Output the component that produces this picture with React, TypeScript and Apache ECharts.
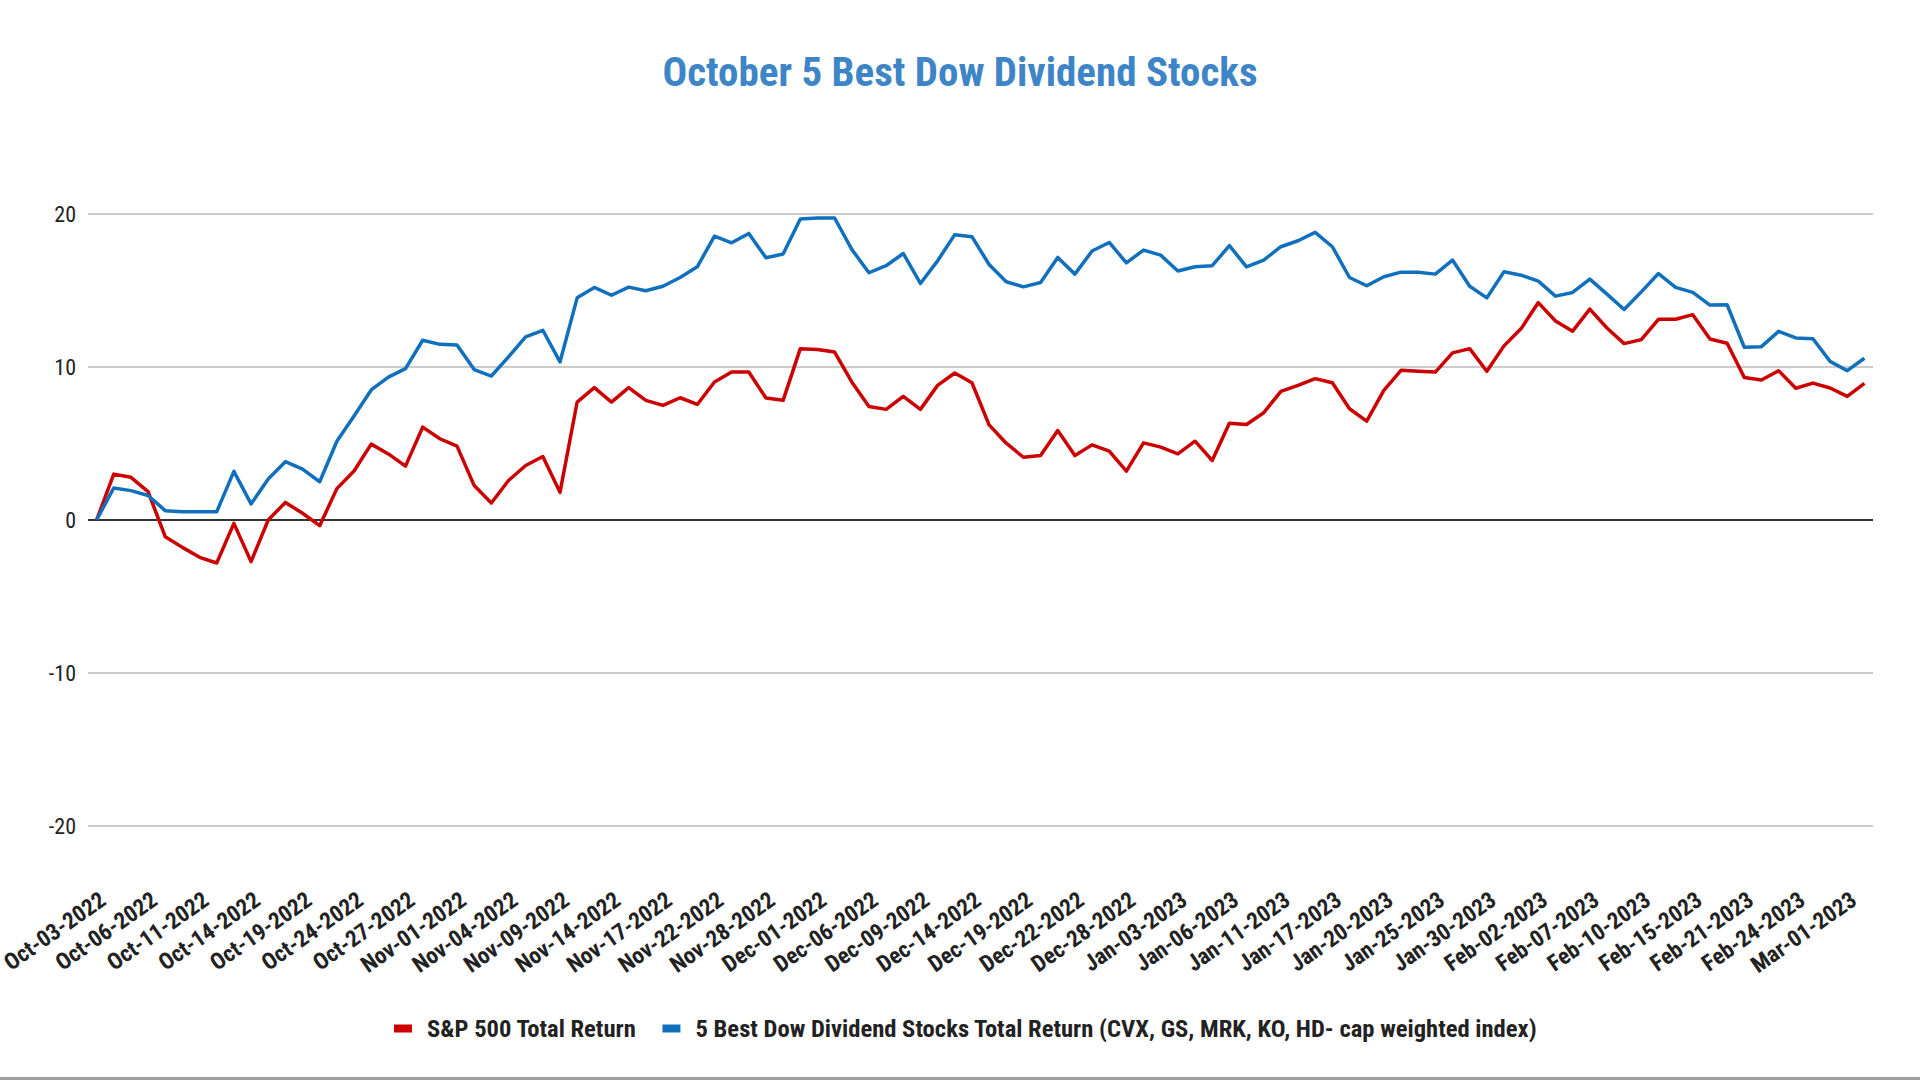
import * as echarts from 'echarts';
import { useEffect, useRef } from 'react';

const tradingDays = [
  'Oct-03-2022', 'Oct-04-2022', 'Oct-05-2022', 'Oct-06-2022', 'Oct-07-2022', 'Oct-10-2022', 'Oct-11-2022',
  'Oct-12-2022', 'Oct-13-2022', 'Oct-14-2022', 'Oct-17-2022', 'Oct-18-2022', 'Oct-19-2022', 'Oct-20-2022',
  'Oct-21-2022', 'Oct-24-2022', 'Oct-25-2022', 'Oct-26-2022', 'Oct-27-2022', 'Oct-28-2022', 'Oct-31-2022',
  'Nov-01-2022', 'Nov-02-2022', 'Nov-03-2022', 'Nov-04-2022', 'Nov-07-2022', 'Nov-08-2022', 'Nov-09-2022',
  'Nov-10-2022', 'Nov-11-2022', 'Nov-14-2022', 'Nov-15-2022', 'Nov-16-2022', 'Nov-17-2022', 'Nov-18-2022',
  'Nov-21-2022', 'Nov-22-2022', 'Nov-23-2022', 'Nov-25-2022', 'Nov-28-2022', 'Nov-29-2022', 'Nov-30-2022',
  'Dec-01-2022', 'Dec-02-2022', 'Dec-05-2022', 'Dec-06-2022', 'Dec-07-2022', 'Dec-08-2022', 'Dec-09-2022',
  'Dec-12-2022', 'Dec-13-2022', 'Dec-14-2022', 'Dec-15-2022', 'Dec-16-2022', 'Dec-19-2022', 'Dec-20-2022',
  'Dec-21-2022', 'Dec-22-2022', 'Dec-23-2022', 'Dec-27-2022', 'Dec-28-2022', 'Dec-29-2022', 'Dec-30-2022',
  'Jan-03-2023', 'Jan-04-2023', 'Jan-05-2023', 'Jan-06-2023', 'Jan-09-2023', 'Jan-10-2023', 'Jan-11-2023',
  'Jan-12-2023', 'Jan-13-2023', 'Jan-17-2023', 'Jan-18-2023', 'Jan-19-2023', 'Jan-20-2023', 'Jan-23-2023',
  'Jan-24-2023', 'Jan-25-2023', 'Jan-26-2023', 'Jan-27-2023', 'Jan-30-2023', 'Jan-31-2023', 'Feb-01-2023',
  'Feb-02-2023', 'Feb-03-2023', 'Feb-06-2023', 'Feb-07-2023', 'Feb-08-2023', 'Feb-09-2023', 'Feb-10-2023',
  'Feb-13-2023', 'Feb-14-2023', 'Feb-15-2023', 'Feb-16-2023', 'Feb-17-2023', 'Feb-21-2023', 'Feb-22-2023',
  'Feb-23-2023', 'Feb-24-2023', 'Feb-27-2023', 'Feb-28-2023', 'Mar-01-2023', 'Mar-02-2023'
];

// total return in %
const spReturn = [
  0, 3.0, 2.79, 1.85, -1.09, -1.79, -2.44, -2.81, -0.22, -2.72, 0.0, 1.15, 0.44, -0.37, 2.05, 3.2, 4.96,
  4.32, 3.52, 6.07, 5.31, 4.83, 2.25, 1.11, 2.58, 3.56, 4.15, 1.81, 7.71, 8.65, 7.71, 8.65, 7.82, 7.49, 7.99, 7.55,
  9.02, 9.67, 9.67, 7.97, 7.82, 11.2, 11.14, 10.98, 9.02, 7.42, 7.23, 8.08, 7.23, 8.8, 9.61, 8.97, 6.22, 5.02, 4.1,
  4.21, 5.85, 4.21, 4.91, 4.5, 3.19, 5.04, 4.76, 4.32, 5.15, 3.89, 6.33, 6.24, 7.01, 8.41, 8.8, 9.24, 8.97, 7.27,
  6.46, 8.47, 9.78, 9.72, 9.67, 10.92, 11.2, 9.72, 11.38, 12.51, 14.21, 13.01, 12.34, 13.78, 12.55, 11.53, 11.79, 13.12, 13.12,
  13.42, 11.83, 11.55, 9.32, 9.15, 9.76, 8.61, 8.95, 8.63, 8.08, 8.93
];

const dowReturn = [
  0, 2.09, 1.92, 1.6, 0.61, 0.54, 0.54, 0.54, 3.18, 1.05, 2.68, 3.81, 3.33, 2.5, 5.15, 6.8, 8.5,
  9.34, 9.89, 11.75, 11.48, 11.44, 9.83, 9.41, 10.66, 11.97, 12.4, 10.33, 14.52, 15.2, 14.69, 15.22, 14.98, 15.28, 15.85, 16.55,
  18.56, 18.12, 18.73, 17.14, 17.38, 19.67, 19.74, 19.74, 17.69, 16.16, 16.62, 17.42, 15.46, 16.94, 18.65, 18.52, 16.7, 15.57, 15.24,
  15.52, 17.16, 16.07, 17.58, 18.14, 16.81, 17.64, 17.31, 16.27, 16.55, 16.62, 17.93, 16.55, 16.99, 17.86, 18.25, 18.8, 17.86, 15.85,
  15.31, 15.9, 16.2, 16.2, 16.07, 16.99, 15.28, 14.52, 16.22, 16.0, 15.61, 14.63, 14.87, 15.74, 14.76, 13.76, 14.91, 16.11, 15.2,
  14.88, 14.05, 14.07, 11.29, 11.33, 12.33, 11.9, 11.85, 10.37, 9.76, 10.57
];

const seriesNames = [
  'S&P 500 Total Return',
  '5 Best Dow Dividend Stocks Total Return (CVX, GS, MRK, KO, HD- cap weighted index)'
];
const seriesColors = ['#cc0000', '#1170bd'];

const FONT = "'Liberation Sans Narrow', 'Roboto Condensed', 'Liberation Sans', Arial, sans-serif";

export default function App() {
  const chartRef = useRef<HTMLDivElement>(null);

  useEffect(() => {
    if (!chartRef.current) return;
    const chart = echarts.init(chartRef.current, undefined, { renderer: 'svg' });

    chart.setOption({
      animation: false,
      backgroundColor: '#ffffff',
      textStyle: { fontFamily: FONT },
      title: {
        text: 'October 5 Best Dow Dividend Stocks',
        left: 'center',
        top: 46,
        textStyle: { color: '#3d85c6', fontSize: 41, fontWeight: 'bold', fontFamily: FONT }
      },
      legend: {
        bottom: 34,
        left: 389,
        icon: 'rect',
        itemWidth: 18,
        itemHeight: 8,
        itemGap: 26,
        textStyle: {
          color: '#222222',
          fontSize: 24.6,
          fontWeight: 'bold',
          fontFamily: FONT,
          padding: [0, 0, 0, 10]
        }
      },
      grid: {
        left: 88,
        right: 47,
        top: 214,
        bottom: 254,
        containLabel: false,
        outerBoundsMode: 'none'
      },
      xAxis: {
        type: 'category',
        data: tradingDays,
        boundaryGap: true,
        axisLine: { show: false },
        axisTick: { show: false },
        axisLabel: {
          interval: 2,
          rotate: 35,
          margin: 62,
          align: 'right',
          verticalAlign: 'top',
          color: '#222222',
          fontSize: 23,
          fontWeight: 'bold',
          fontFamily: FONT
        }
      },
      yAxis: {
        type: 'value',
        min: -20,
        max: 20,
        interval: 10,
        axisLine: { show: false },
        axisTick: { show: false },
        axisLabel: { color: '#222222', fontSize: 22, margin: 12, fontFamily: FONT },
        splitLine: {
          lineStyle: { color: ['#cccccc', '#cccccc', '#333333', '#cccccc', '#cccccc'], width: 2 }
        }
      },
      series: [
        {
          name: seriesNames[0],
          type: 'line',
          data: spReturn,
          symbol: 'none',
          color: seriesColors[0],
          lineStyle: { width: 3.5, color: seriesColors[0], join: 'round' }
        },
        {
          name: seriesNames[1],
          type: 'line',
          data: dowReturn,
          symbol: 'none',
          color: seriesColors[1],
          lineStyle: { width: 3.5, color: seriesColors[1], join: 'round' }
        }
      ],
      graphic: [
        {
          type: 'rect',
          left: 0,
          bottom: 0,
          shape: { width: 1920, height: 3 },
          style: { fill: '#9e9e9e' },
          silent: true
        }
      ]
    });

    return () => {
      chart.dispose();
    };
  }, []);

  return (
    <div
      ref={chartRef}
      style={{ position: 'absolute', left: 0, top: 0, width: '1920px', height: '1080px' }}
    />
  );
}
